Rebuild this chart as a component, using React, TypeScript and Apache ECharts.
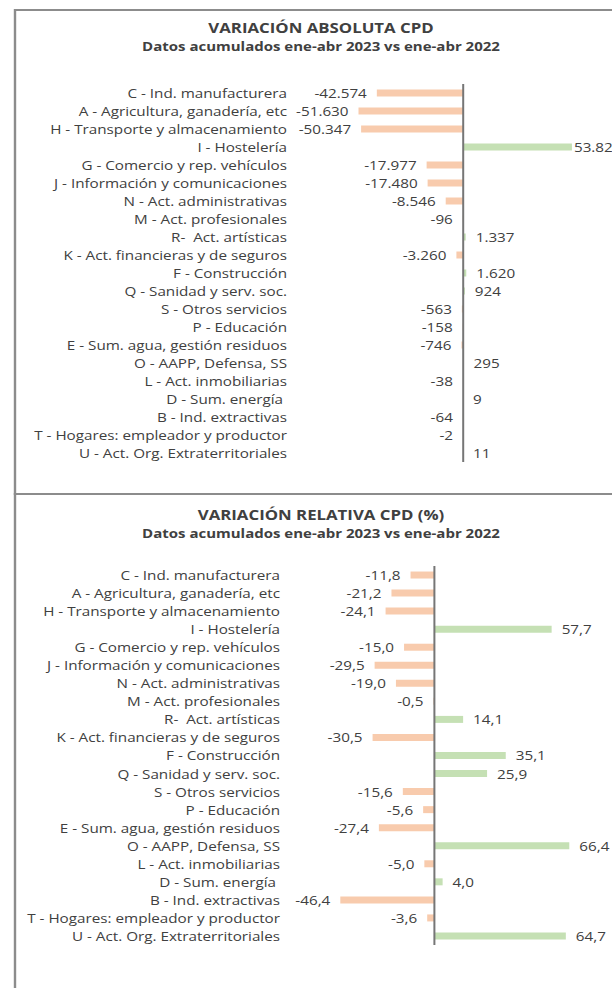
import React, { useEffect, useRef } from "react";
import * as echarts from "echarts";

const categories = [
  "C - Ind. manufacturera",
  "A - Agricultura, ganadería, etc",
  "H - Transporte y almacenamiento",
  "I - Hostelería",
  "G - Comercio y rep. vehículos",
  "J - Información y comunicaciones",
  "N - Act. administrativas",
  "M - Act. profesionales",
  "R-  Act. artísticas",
  "K - Act. financieras y de seguros",
  "F - Construcción",
  "Q - Sanidad y serv. soc.",
  "S - Otros servicios",
  "P - Educación",
  "E - Sum. agua, gestión residuos",
  "O - AAPP, Defensa, SS",
  "L - Act. inmobiliarias",
  "D - Sum. energía ",
  "B - Ind. extractivas",
  "T - Hogares: empleador y productor",
  "U - Act. Org. Extraterritoriales",
];

const absoluteValues = [
  -42574, -51630, -50347, 53821, -17977, -17480, -8546, -96, 1337, -3260, 1620,
  924, -563, -158, -746, 295, -38, 9, -64, -2, 11,
];

const relativeValues = [
  -11.8, -21.2, -24.1, 57.7, -15.0, -29.5, -19.0, -0.5, 14.1, -30.5, 35.1, 25.9,
  -15.6, -5.6, -27.4, 66.4, -5.0, 4.0, -46.4, -3.6, 64.7,
];

const topTitle = "VARIACIÓN ABSOLUTA CPD";
const bottomTitle = "VARIACIÓN RELATIVA CPD (%)";
const subTitle = "Datos acumulados ene-abr 2023 vs ene-abr 2022";

const NEG = "#F8CBAD";
const POS = "#C5E0B4";
const TEXT = "#404040";
const FONT = '"Open Sans", "DejaVu Sans", sans-serif';
const LABEL_SIZE = 12.7;
// the reference chart is horizontally stretched; reproduce it with a scaleX
const S = 1.2;
const px = (x: number) => x / S;

function fmtInt(v: number): string {
  const s = Math.abs(v)
    .toString()
    .replace(/\B(?=(\d{3})+(?!\d))/g, ".");
  return (v < 0 ? "-" : "") + s;
}
function fmtDec(v: number): string {
  return v.toFixed(1).replace(".", ",");
}

function buildData(values: number[], fmt: (v: number) => string, tightIndex: number) {
  return values.map((v, i) => ({
    value: v,
    itemStyle: { color: v < 0 ? NEG : POS },
    label: {
      show: true,
      position: v < 0 ? "left" : "right",
      distance: i === tightIndex ? px(2) : px(10),
      formatter: fmt(v),
      color: TEXT,
      fontSize: LABEL_SIZE,
      fontFamily: FONT,
    },
  }));
}

export default function App() {
  const ref = useRef<HTMLDivElement>(null);

  useEffect(() => {
    if (!ref.current) return;
    const chart = echarts.init(ref.current, undefined, { renderer: "svg" });

    // layout given in page pixels, converted to chart pixels with px()
    const g1 = { left: px(297), top: 84, width: px(432), height: 378 };
    const zero1 = px(463);
    const k1 = px(2.024) / 1000;
    const min1 = -(zero1 - g1.left) / k1;
    const max1 = min1 + g1.width / k1;

    const g2 = { left: px(290), top: 566, width: px(432), height: 379 };
    const zero2 = px(434.5);
    const k2 = px(2.03);
    const min2 = -(zero2 - g2.left) / k2;
    const max2 = min2 + g2.width / k2;

    const axisLabel = {
      color: TEXT,
      fontSize: LABEL_SIZE,
      fontFamily: FONT,
      margin: px(10),
      interval: 0,
    };

    const zeroLine = {
      silent: true,
      symbol: ["none", "none"],
      label: { show: false },
      lineStyle: { color: "#767676", width: px(2), type: "solid" },
      data: [{ xAxis: 0 }],
    };

    const titleText = (text: string, y: number, size: number) => ({
      type: "text",
      x: px(321),
      y,
      style: {
        text,
        fontSize: size,
        fontWeight: "bold",
        fontFamily: FONT,
        fill: TEXT,
        align: "center",
        verticalAlign: "middle",
      },
    });

    chart.setOption({
      animation: false,
      backgroundColor: "#ffffff",
      grid: [
        { ...g1, outerBoundsMode: "none", containLabel: false },
        { ...g2, outerBoundsMode: "none", containLabel: false },
      ],
      xAxis: [
        { type: "value", gridIndex: 0, min: min1, max: max1, show: false },
        { type: "value", gridIndex: 1, min: min2, max: max2, show: false },
      ],
      yAxis: [
        {
          type: "category",
          gridIndex: 0,
          data: categories,
          inverse: true,
          axisLine: { show: false },
          axisTick: { show: false },
          splitLine: { show: false },
          axisLabel,
        },
        {
          type: "category",
          gridIndex: 1,
          data: categories,
          inverse: true,
          axisLine: { show: false },
          axisTick: { show: false },
          splitLine: { show: false },
          axisLabel,
        },
      ],
      series: [
        {
          type: "bar",
          xAxisIndex: 0,
          yAxisIndex: 0,
          barWidth: 7,
          data: buildData(absoluteValues, fmtInt, 3),
          markLine: zeroLine,
        },
        {
          type: "bar",
          xAxisIndex: 1,
          yAxisIndex: 1,
          barWidth: 7,
          data: buildData(relativeValues, fmtDec, -1),
          markLine: zeroLine,
        },
      ],
      graphic: [
        {
          type: "rect",
          shape: { x: px(15), y: 10, width: 600, height: 484 },
          style: { fill: "none", stroke: "#8c8c8c", lineWidth: 2 },
        },
        {
          type: "rect",
          shape: { x: px(15), y: 494, width: 600, height: 600 },
          style: { fill: "none", stroke: "#8c8c8c", lineWidth: 2 },
        },
        titleText(topTitle, 28, 14),
        titleText(subTitle, 46, 12.5),
        titleText(bottomTitle, 515, 14),
        titleText(subTitle, 533, 12.5),
      ],
    });

    return () => chart.dispose();
  }, []);

  return (
    <div
      style={{
        position: "fixed",
        left: 0,
        top: 0,
        width: 612,
        height: 988,
        overflow: "hidden",
        background: "#fff",
      }}
    >
      <div
        style={{
          width: 600,
          height: 988,
          transform: `scaleX(${S})`,
          transformOrigin: "0 0",
        }}
      >
        <div ref={ref} style={{ width: 600, height: 988 }} />
      </div>
    </div>
  );
}
